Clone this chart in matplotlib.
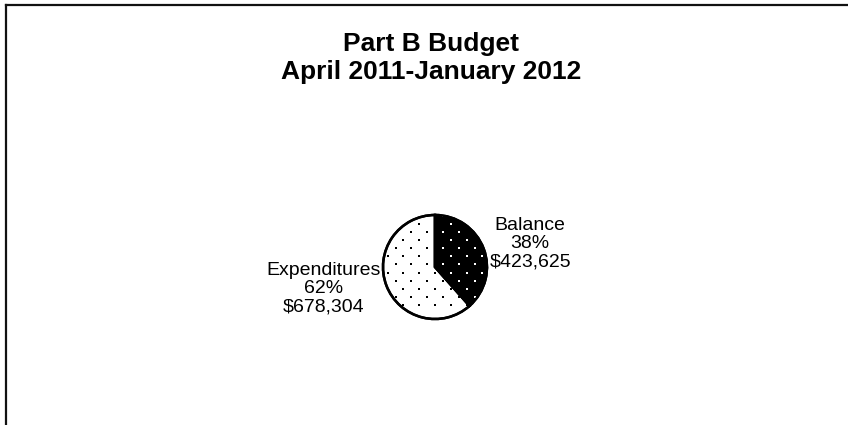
import numpy as np
import matplotlib.pyplot as plt
from matplotlib.lines import Line2D

# Part B budget split
categories = ["Balance", "Expenditures"]
amounts = [423625, 678304]
percents = ["38%", "62%"]

plt.rcParams['font.family'] = ['Liberation Sans', 'DejaVu Sans']

W, H = 848, 425
fig = plt.figure(figsize=(W / 100, H / 100), dpi=100)

# pie centre and radius in pixels
cx, cy, r = 435, 267, 52
ax = fig.add_axes([0, 0, 1, 1])

wedges, _ = ax.pie(amounts, startangle=90, counterclock=False, radius=1,
                   colors=["black", "white"], frame=True,
                   wedgeprops=dict(edgecolor="black", linewidth=1.8))
ax.set_xlim(-cx / r, (W - cx) / r)
ax.set_ylim(-(H - cy) / r, cy / r)
ax.axis("off")

# dotted fill texture (staggered dot grid, clipped to each slice)
row_step, col_step = 8.15 / r, 15.8 / r
rows = np.arange(-8, 9)
gx, gy = [], []
for k in rows:
    off = 0 if k % 2 == 0 else col_step / 2
    xs = np.arange(-8, 9) * col_step + off
    gx.extend(xs)
    gy.extend(np.full(xs.size, (27 / r) - k * row_step))
gx, gy = np.array(gx), np.array(gy)
for w, dc in zip(wedges, ["white", "black"]):
    dots = ax.scatter(gx, gy, s=3.0, marker="s", color=dc, linewidths=0, zorder=3)
    dots.set_clip_path(w)

# redraw outline above the dots
ax.pie(amounts, startangle=90, counterclock=False, radius=1,
       colors=["none", "none"], frame=True,
       wedgeprops=dict(edgecolor="black", linewidth=1.8, fill=False, zorder=4))
ax.set_xlim(-cx / r, (W - cx) / r)
ax.set_ylim(-(H - cy) / r, cy / r)
ax.axis("off")

# slice labels
ax.text(1.83, 0.45, f"{categories[0]}\n{percents[0]}\n${amounts[0]:,}",
        ha="center", va="center", fontsize=14, linespacing=1.08)
ax.text(-2.15, -0.42, f"{categories[1]}\n{percents[1]}\n${amounts[1]:,}",
        ha="center", va="center", fontsize=14, linespacing=1.08)

fig.text(431 / W, 1 - 58 / H, "Part B Budget\nApril 2011-January 2012",
         ha="center", va="center", fontsize=19, fontweight="bold",
         linespacing=1.2)

# chart-area border (only top and left visible)
fig.add_artist(Line2D([6 / W, 1], [1 - 5 / H, 1 - 5 / H], color="#111111", lw=1.6))
fig.add_artist(Line2D([6 / W, 6 / W], [0, 1 - 5 / H], color="#111111", lw=1.6))

fig.savefig("out.png", dpi=100, facecolor="white")
